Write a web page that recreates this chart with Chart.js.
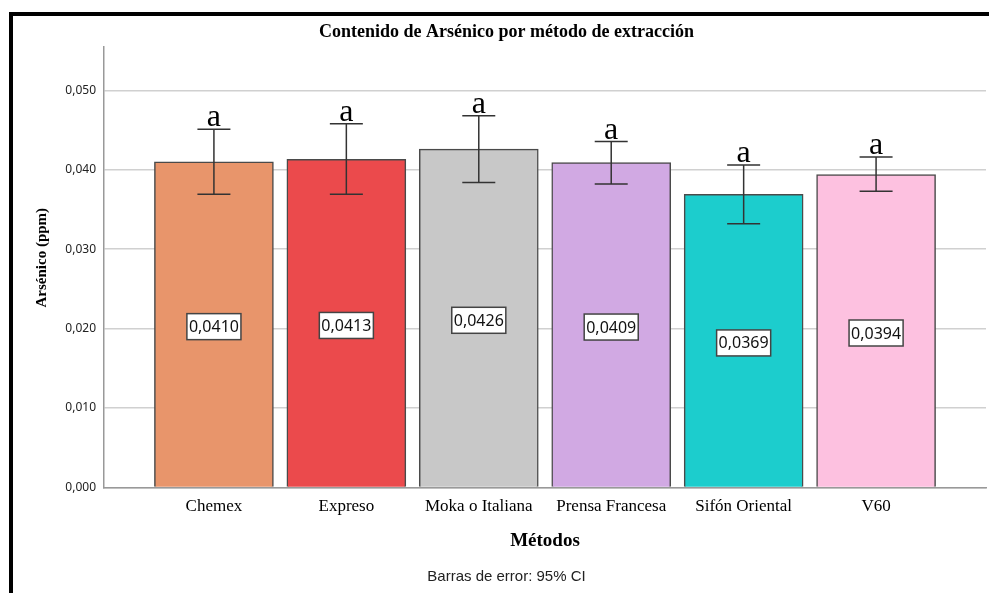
<!DOCTYPE html>
<html>
<head>
<meta charset="utf-8">
<script src="https://cdn.jsdelivr.net/npm/chart.js@4/dist/chart.umd.min.js"></script>
<style>
  body { margin: 0; background: #fff; }
  #wrap { position: relative; width: 989px; height: 593px; overflow: hidden; }
  #frame { position: absolute; left: 9px; top: 12px; width: 1000px; height: 600px;
           border-left: 4px solid #000; border-top: 4px solid #000; pointer-events: none; }
  canvas { position: absolute; left: 0; top: 0; }
</style>
</head>
<body>
<div id="wrap">
  <canvas id="chart" width="989" height="593"></canvas>
  <div id="frame"></div>
</div>
<script>
// datos
var metodos = ["Chemex", "Expreso", "Moka o Italiana", "Prensa Francesa", "Sifón Oriental", "V60"];
var arsenico = [0.0410, 0.0413, 0.0426, 0.0409, 0.0369, 0.0394];
var icInferior = [0.0369, 0.0369, 0.0384, 0.0382, 0.0332, 0.0373];
var icSuperior = [0.0451, 0.0458, 0.0468, 0.04355, 0.0406, 0.0416];
var letras = ["a", "a", "a", "a", "a", "a"];
var colores = ["#E8956B", "#EB4A4C", "#C8C8C8", "#D1A9E3", "#1CCDCD", "#FDC1E0"];
var yTicks = [0, 0.01, 0.02, 0.03, 0.04, 0.05];

function coma(v, d) {
    return v.toFixed(d).replace(".", ",");
}

// barras de error, letras y etiquetas de valor
var extras = {
    id: "extras",
    afterDatasetsDraw: function (chart) {
        var ctx = chart.ctx;
        var y = chart.scales.y;
        var meta = chart.getDatasetMeta(0);
        ctx.save();
        meta.data.forEach(function (bar, i) {
            var x = bar.x;
            var yLo = y.getPixelForValue(icInferior[i]);
            var yHi = y.getPixelForValue(icSuperior[i]);
            ctx.strokeStyle = "#333";
            ctx.lineWidth = 1.5;
            ctx.beginPath();
            ctx.moveTo(x, yLo); ctx.lineTo(x, yHi);
            ctx.moveTo(x - 16.5, yLo); ctx.lineTo(x + 16.5, yLo);
            ctx.moveTo(x - 16.5, yHi); ctx.lineTo(x + 16.5, yHi);
            ctx.stroke();

            ctx.fillStyle = "#000";
            ctx.font = "32px 'Liberation Serif'";
            ctx.textAlign = "center";
            ctx.textBaseline = "alphabetic";
            ctx.fillText(letras[i], x, yHi - 3);

            var txt = coma(arsenico[i], 4);
            ctx.font = "16px 'Noto Sans'";
            var w = ctx.measureText(txt).width + 4;
            var h = 26;
            var cy = y.getPixelForValue(arsenico[i] / 2) + 2;
            ctx.fillStyle = "#fff";
            ctx.fillRect(x - w / 2, cy - h / 2, w, h);
            ctx.strokeStyle = "#444";
            ctx.lineWidth = 1.5;
            ctx.strokeRect(x - w / 2, cy - h / 2, w, h);
            ctx.fillStyle = "#111";
            ctx.textBaseline = "middle";
            ctx.fillText(txt, x, cy + 1);
        });
        ctx.restore();
    }
};

new Chart(document.getElementById("chart"), {
    type: "bar",
    data: {
        datasets: [{
            data: arsenico.map(function (v, i) { return { x: i, y: v }; }),
            backgroundColor: colores,
            borderColor: "#4a4a4a",
            borderWidth: 1.5,
            barThickness: 119
        }]
    },
    options: {
        responsive: false,
        animation: false,
        devicePixelRatio: 1,
        layout: { padding: { left: 27, right: 3, top: 20, bottom: 0 } },
        plugins: {
            legend: { display: false },
            tooltip: { enabled: false },
            title: {
                display: true,
                text: "Contenido de Arsénico por método de extracción",
                color: "#000",
                font: { family: "'Liberation Serif'", size: 18, weight: "bold" },
                padding: { top: 2, bottom: 3 }
            },
            subtitle: {
                display: true,
                position: "bottom",
                text: "Barras de error: 95% CI",
                color: "#222",
                font: { family: "'Liberation Sans'", size: 15 },
                padding: { top: 0, bottom: 7 }
            }
        },
        scales: {
            x: {
                type: "linear",
                offset: false,
                min: -0.83,
                max: 5.83,
                afterBuildTicks: function (scale) {
                    scale.ticks = metodos.map(function (m, i) { return { value: i }; });
                },
                afterFit: function (scale) { scale.height = 80.5; },
                grid: { display: false },
                border: { display: true, color: "#999", width: 1.5 },
                ticks: {
                    autoSkip: false,
                    maxRotation: 0,
                    padding: 1,
                    color: "#000",
                    font: { family: "'Liberation Serif'", size: 17 },
                    callback: function (v) { return metodos[v]; }
                },
                title: {
                    display: true,
                    text: "Métodos",
                    color: "#000",
                    font: { family: "'Liberation Serif'", size: 19, weight: "bold" },
                    padding: { top: 4, bottom: 16 }
                }
            },
            y: {
                min: 0,
                max: 0.0555,
                afterBuildTicks: function (scale) {
                    scale.ticks = yTicks.map(function (v) { return { value: v }; });
                },
                afterFit: function (scale) { scale.width = 77; },
                grid: { color: "#d0d0d0", lineWidth: 1.5, drawTicks: false },
                border: { display: true, color: "#999", width: 1.5 },
                ticks: {
                    padding: 8,
                    color: "#222",
                    font: { family: "'Noto Sans'", size: 12 },
                    callback: function (v) { return coma(v, 3); }
                },
                title: {
                    display: true,
                    text: "     Arsénico (ppm)",
                    color: "#000",
                    font: { family: "'Liberation Serif'", size: 15, weight: "bold" },
                    padding: { top: 6, bottom: 0 }
                }
            }
        }
    },
    plugins: [extras]
});
</script>
</body>
</html>
